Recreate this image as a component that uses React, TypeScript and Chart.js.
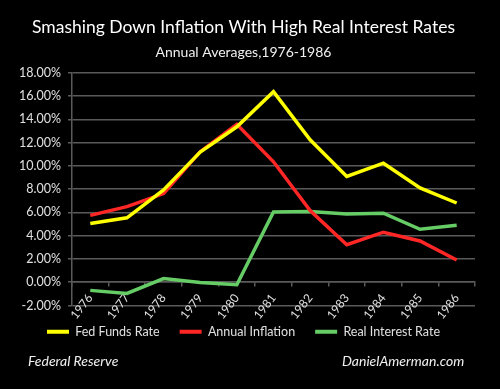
import React, { useEffect, useRef } from "react";
import { Chart, registerables } from "chart.js";

Chart.register(...registerables);

const years = ["1976", "1977", "1978", "1979", "1980", "1981", "1982", "1983", "1984", "1985", "1986"];
const fedFunds = [5.05, 5.54, 7.93, 11.19, 13.36, 16.38, 12.24, 9.09, 10.23, 8.1, 6.81];
const inflation = [5.75, 6.5, 7.62, 11.22, 13.58, 10.35, 6.16, 3.22, 4.3, 3.55, 1.91];
const realRate = [-0.7, -0.96, 0.31, -0.03, -0.22, 6.03, 6.08, 5.87, 5.93, 4.55, 4.9];

const FONT = "Lato, 'Open Sans', sans-serif";
const GRID = "#5a5a5a";
const TEXT = "#e0e0e0";

export default function App() {
  const ref = useRef<HTMLCanvasElement | null>(null);

  useEffect(() => {
    document.body.style.margin = "0";
    document.body.style.background = "#000";
    const ctx = ref.current!.getContext("2d")!;
    const chart = new Chart(ctx, {
      type: "line",
      data: {
        labels: years,
        datasets: [
          { label: "Fed Funds Rate", data: fedFunds, borderColor: "#ffff00", backgroundColor: "#ffff00", borderWidth: 3.5, pointRadius: 0, tension: 0 },
          { label: "Annual Inflation", data: inflation, borderColor: "#ff2626", backgroundColor: "#ff2626", borderWidth: 3.5, pointRadius: 0, tension: 0 },
          { label: "Real Interest Rate", data: realRate, borderColor: "#66cc66", backgroundColor: "#66cc66", borderWidth: 3.5, pointRadius: 0, tension: 0 },
        ],
      },
      options: {
        animation: false,
        responsive: false,
        maintainAspectRatio: false,
        layout: { padding: { left: 12, right: 25, top: 0, bottom: 41 } },
        plugins: {
          title: {
            display: true,
            text: "Smashing Down Inflation With High Real Interest Rates",
            color: "#ffffff",
            font: { family: FONT, size: 17.5, weight: "normal" },
            padding: { top: 17, bottom: 6 },
          },
          subtitle: {
            display: true,
            text: "Annual Averages,1976-1986",
            color: "#f0f0f0",
            font: { family: FONT, size: 14, weight: "normal" },
            padding: { top: 0, bottom: 12 },
          },
          legend: {
            position: "bottom",
            labels: {
              color: TEXT,
              font: { family: FONT, size: 12.5 },
              boxWidth: 22,
              boxHeight: 4,
              padding: 20,
              generateLabels: (c: any) =>
                Chart.defaults.plugins.legend.labels.generateLabels(c).map((l: any) => ({ ...l, lineWidth: 0 })),
            },
          },
          tooltip: { enabled: false },
        },
        scales: {
          x: {
            type: "category",
            position: { y: 0 } as any,
            offset: true,
            grid: { offset: true, drawOnChartArea: false, drawTicks: true, tickLength: 4, color: GRID, lineWidth: 1.5 },
            border: { display: true, color: GRID, width: 1.5 },
            ticks: { color: TEXT, font: { family: FONT, size: 12 }, minRotation: 52, maxRotation: 52, padding: 5 },
          },
          y: {
            min: -2,
            max: 18,
            ticks: {
              stepSize: 2,
              color: TEXT,
              font: { family: FONT, size: 12.5 },
              padding: 7,
              callback: (v: any) => Number(v).toFixed(2) + "%",
            },
            grid: { color: GRID, lineWidth: 1.5, tickLength: 4 },
            border: { display: true, color: GRID, width: 1.5 },
          },
        },
      },
    });
    return () => chart.destroy();
  }, []);

  return (
    <div style={{ position: "relative", width: 500, height: 389, background: "#000" }}>
      <canvas ref={ref} width={500} height={389} style={{ display: "block" }} />
      <div style={{ position: "absolute", left: 28, top: 352, color: "#f0f0f0", fontFamily: FONT, fontStyle: "italic", fontSize: 14 }}>
        Federal Reserve
      </div>
      <div style={{ position: "absolute", left: 342, top: 352, color: "#f0f0f0", fontFamily: FONT, fontStyle: "italic", fontSize: 14 }}>
        DanielAmerman.com
      </div>
    </div>
  );
}
